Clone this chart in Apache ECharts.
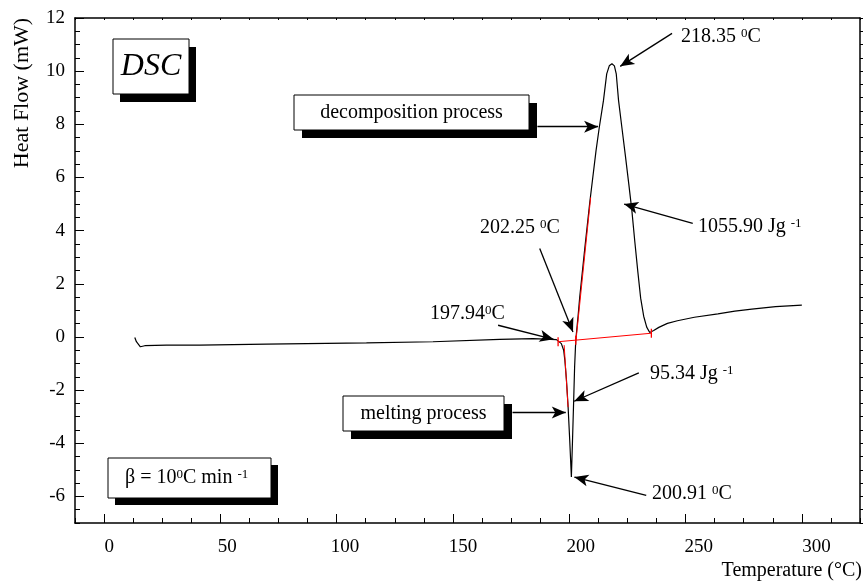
<!DOCTYPE html>
<html><head><meta charset="utf-8">
<script src="https://cdn.jsdelivr.net/npm/echarts@6/dist/echarts.min.js"></script>
<style>html,body{margin:0;padding:0;background:#fff}#c{width:865px;height:582px}</style>
</head><body><div id="c"></div>
<script>
// ---- data ----
const temperature = [13.2, 13.9, 15.6, 17.5, 26.8, 41.1, 69.8, 112.8, 141.4, 170.1,
  184.4, 194.5, 196.6, 197.6, 198.1, 198.8, 199.5, 200.2, 200.91, 201.4,
  201.9, 202.3, 202.8, 203.8, 204.5, 206.7, 208.8, 211.5, 212.9, 214.7,
  216.1, 217.2, 218.35, 219.4, 220.2, 221.2, 222.6, 224.1, 225.6, 226.9,
  228.2, 229.5, 230.7, 232.0, 233.3, 234.6, 236.3, 238.5, 242.2, 246.5,
  253.8, 263.9, 271.2, 278.5, 288.7, 300];
const heatFlow = [-0.02, -0.18, -0.37, -0.33, -0.31, -0.31, -0.27, -0.22, -0.18, -0.09,
  -0.06, -0.1, -0.25, -0.5, -0.87, -1.63, -2.63, -3.89, -5.27, -3.89,
  -2.38, -1.13, -0.12, 0.8, 1.5, 3.35, 5.05, 7.0, 7.88, 8.89,
  9.9, 10.2, 10.28, 10.2, 9.9, 8.89, 7.9, 6.84, 5.75, 4.77,
  3.57, 2.44, 1.46, 0.78, 0.37, 0.17, 0.24, 0.36, 0.51, 0.61,
  0.74, 0.87, 0.97, 1.05, 1.14, 1.2];
const baselineT = [195.2, 202.8, 235.3];
const baselineY = [-0.18, -0.12, 0.14];
const meltTangentT = [197.8, 199.5];
const meltTangentY = [-0.31, -2.64];
const decompTangentT = [202.9, 209.2];
const decompTangentY = [-0.12, 5.25];
const xTickLabels = [0, 50, 100, 150, 200, 250, 300];
const yTickLabels = [-6, -4, -2, 0, 2, 4, 6, 8, 10, 12];
// annotation arrows: [from, to] in data coordinates
const arrowFrom = [[244.2, 11.42], [186.3, 7.91], [253.1, 4.27], [187.3, 3.33], [169.4, 0.44], [175.6, -2.84], [229.9, -1.35], [233.1, -5.96]];
const arrowTo   = [[221.9, 10.18], [212.4, 7.91], [223.6, 5.0], [201.6, 0.19], [193.3, -0.09], [198.5, -2.84], [202.1, -2.42], [202.2, -5.27]];

const FF = 'Liberation Serif';
const zip = (a, b) => a.map((v, i) => [v, b[i]]);
const chart = echarts.init(document.getElementById('c'), null, {renderer: 'canvas'});

const sup = {fontSize: 13, fontFamily: FF, verticalAlign: 'top', fill: '#000', lineHeight: 20};
function txt(x, y, text, size, extra) {
  return Object.assign({type: 'text', x: x, y: y, z: 120,
    style: {text: text, fontSize: size, fontFamily: FF, fill: '#000', verticalAlign: 'middle',
      rich: {s: sup, n: {fontSize: size, fontFamily: FF, fill: '#000', lineHeight: 20}}}}, extra || {});
}
function box(x, y, w, h, dx, dy) {
  return [
    {type: 'rect', z: 100, shape: {x: x + dx, y: y + dy, width: w, height: h}, style: {fill: '#000'}},
    {type: 'rect', z: 101, shape: {x: x, y: y, width: w, height: h}, style: {fill: '#fff', stroke: '#000', lineWidth: 1}}
  ];
}

const blackLine = {color: '#000', width: 1.5};
const option = {
  animation: false,
  backgroundColor: '#fff',
  grid: {left: 75, right: 5, top: 18, bottom: 59, containLabel: false, outerBoundsMode: 'none'},
  xAxis: [
    {type: 'value', min: -12.5, max: 325, interval: 12.5, position: 'bottom',
      axisLine: {show: true, onZero: false, lineStyle: blackLine},
      axisTick: {inside: true, length: 5, lineStyle: {color: '#000', width: 1}},
      axisLabel: {show: false}, splitLine: {show: false}},
    {type: 'value', min: -12.5, max: 325, position: 'bottom',
      axisLine: {show: false, onZero: false},
      axisTick: {inside: true, length: 9, customValues: xTickLabels, lineStyle: {color: '#000', width: 1}},
      axisLabel: {show: false}, splitLine: {show: false}},
    {type: 'value', min: -14.55, max: 318.4, position: 'bottom',
      axisLine: {show: false, onZero: false}, axisTick: {show: false},
      axisLabel: {customValues: xTickLabels, margin: 15, fontSize: 19, fontFamily: FF, color: '#000'},
      splitLine: {show: false}},
    {type: 'value', min: -12.5, max: 325, interval: 12.5, position: 'top',
      axisLine: {show: true, onZero: false, lineStyle: blackLine},
      axisTick: {inside: true, length: 2, lineStyle: {color: '#000', width: 1}},
      axisLabel: {show: false}, splitLine: {show: false}}
  ],
  yAxis: [
    {type: 'value', min: -7, max: 12, interval: 0.5, position: 'left',
      axisLine: {show: true, onZero: false, lineStyle: blackLine},
      axisTick: {inside: true, length: 5, lineStyle: {color: '#000', width: 1}},
      axisLabel: {show: false}, splitLine: {show: false}},
    {type: 'value', min: -7, max: 12, position: 'left',
      axisLine: {show: false, onZero: false},
      axisTick: {inside: true, length: 9, customValues: yTickLabels, lineStyle: {color: '#000', width: 1}},
      axisLabel: {customValues: yTickLabels, margin: 10, fontSize: 19, fontFamily: FF, color: '#000'},
      splitLine: {show: false}},
    {type: 'value', min: -7, max: 12, interval: 0.5, position: 'right',
      axisLine: {show: true, onZero: false, lineStyle: blackLine},
      axisTick: {inside: false, length: 3, lineStyle: {color: '#000', width: 1}},
      axisLabel: {show: false}, splitLine: {show: false}}
  ],
  series: [
    {type: 'line', xAxisIndex: 0, yAxisIndex: 0, data: zip(temperature, heatFlow),
      showSymbol: false, lineStyle: {color: '#000', width: 1.2}, z: 3, silent: true,
      markLine: {silent: true, symbol: ['none', 'arrow'], symbolSize: [9, 14], animation: false,
        label: {show: false}, lineStyle: {color: '#000', width: 1.3, type: 'solid'},
        emphasis: {disabled: true},
        data: arrowFrom.map((f, i) => [{coord: f}, {coord: arrowTo[i]}])}},
    {type: 'line', xAxisIndex: 0, yAxisIndex: 0, data: zip(baselineT, baselineY),
      symbol: 'rect', symbolSize: [1.3, 9], itemStyle: {color: '#ff0000'},
      lineStyle: {color: '#ff0000', width: 1}, z: 4, silent: true},
    {type: 'line', xAxisIndex: 0, yAxisIndex: 0, data: zip(meltTangentT, meltTangentY),
      showSymbol: false, lineStyle: {color: '#ff0000', width: 1}, z: 4, silent: true},
    {type: 'line', xAxisIndex: 0, yAxisIndex: 0, data: zip(decompTangentT, decompTangentY),
      showSymbol: false, lineStyle: {color: '#ff0000', width: 1}, z: 4, silent: true}
  ],
  graphic: [].concat(
    box(113, 39, 76, 55, 7, 8),
    box(294, 95, 235, 35, 8, 8),
    box(343, 396, 161, 35, 8, 8),
    box(108, 458, 163, 40, 7, 7),
    [
      txt(151, 67, 'DSC', 32, {style: {text: 'DSC', fontSize: 32, fontFamily: FF, fontStyle: 'italic', fill: '#000', align: 'center', verticalAlign: 'middle'}}),
      txt(411.5, 113, 'decomposition process', 20, {style: {text: 'decomposition process', fontSize: 20, fontFamily: FF, fill: '#000', align: 'center', verticalAlign: 'middle'}}),
      txt(423.5, 413.5, 'melting process', 20, {style: {text: 'melting process', fontSize: 20, fontFamily: FF, fill: '#000', align: 'center', verticalAlign: 'middle'}}),
      txt(125, 478, '{n|β = 10}{s|0}{n|C min }{s|-1}', 20),
      txt(681, 37, '{n|218.35 }{s|0}{n|C}', 20),
      txt(698, 227, '{n|1055.90 Jg }{s|-1}', 20),
      txt(480, 228, '{n|202.25 }{s|0}{n|C}', 20),
      txt(430, 314, '{n|197.94}{s|0}{n|C}', 20),
      txt(650, 374, '{n|95.34 Jg }{s|-1}', 20),
      txt(652, 494, '{n|200.91 }{s|0}{n|C}', 20),
      {type: 'text', x: 22, y: 93, rotation: Math.PI / 2, z: 120,
        style: {text: 'Heat Flow (mW)', fontSize: 22, fontFamily: FF, fill: '#000', align: 'center', verticalAlign: 'middle'}},
      {type: 'text', x: 862, y: 571, z: 120,
        style: {text: 'Temperature (°C)', fontSize: 20, fontFamily: FF, fill: '#000', align: 'right', verticalAlign: 'middle'}}
    ]
  )
};
chart.setOption(option);
</script>
</body></html>
